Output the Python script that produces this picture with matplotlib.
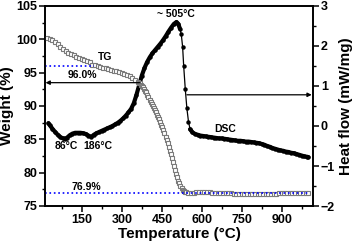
import numpy as np
import matplotlib
matplotlib.use("Agg")
import matplotlib.pyplot as plt
from matplotlib.ticker import MultipleLocator

plt.rcParams['font.family'] = ['Liberation Sans', 'DejaVu Sans']
plt.rcParams['font.weight'] = 'bold'

# TG curve (weight %)
tg_temp = [20, 30, 40, 50, 60, 70, 80, 90, 100, 110, 120, 130, 140, 150, 160, 170,
           180, 190, 200, 210, 220, 230, 240, 250, 260, 270, 280, 290, 300, 310, 320,
           330, 340, 350, 360,
           364, 368, 372, 376, 380, 384, 388, 392, 396, 400, 404, 408, 412, 416, 420,
           424, 428, 432, 436, 440, 444, 448, 452, 456, 460, 464, 468, 472, 476, 480,
           484, 488, 492, 496, 500, 504, 508, 512, 516, 520, 524, 528, 532, 536, 540,
           550, 560, 570, 580, 590, 600, 610, 620, 630, 640, 650, 660, 670, 680, 690,
           700, 710, 720, 730, 740, 750, 760, 770, 780, 790, 800, 810, 820, 830, 840,
           850, 860, 870, 880, 890, 900, 910, 920, 930, 940, 950, 960, 970, 980, 990, 1000]
tg_weight = [100.15, 100.05, 99.9, 99.65, 99.3, 98.9, 98.5, 98.2, 97.95, 97.8, 97.6, 97.4,
             97.2, 97.0, 96.85, 96.7, 96.6, 96.2, 96.1, 96.0, 95.9, 95.75, 95.65, 95.5,
             95.4, 95.3, 95.2, 95.05, 94.95, 94.8, 94.65, 94.45, 94.2, 93.9, 93.6,
             93.5, 93.4, 93.2, 93.0, 92.8, 92.55, 92.3, 92.05, 91.7, 91.3, 90.9, 90.6,
             90.3, 90.0, 89.7, 89.4, 89.05, 88.7, 88.35, 88.0, 87.6, 87.2, 86.8, 86.4,
             85.9, 85.4, 84.9, 84.4, 83.85, 83.3, 82.75, 82.2, 81.6, 81.0, 80.4, 79.8,
             79.3, 78.8, 78.4, 78.05, 77.75, 77.45, 77.25, 77.1, 77.05,
             77.0, 77.0, 77.0, 77.05, 77.05, 77.05, 77.05, 77.05, 77.05, 77.0, 77.0,
             77.0, 76.95, 76.95, 76.9, 76.9, 76.9, 76.85, 76.85, 76.85, 76.85, 76.85,
             76.85, 76.85, 76.85, 76.85, 76.85, 76.85, 76.85, 76.85, 76.85, 76.85,
             76.85, 76.85, 76.9, 76.9, 76.9, 76.9, 76.9, 76.9, 76.9, 76.9, 76.9, 76.9,
             76.9, 76.9]

# DSC curve (heat flow mW/mg)
dsc_temp = [25, 30, 40, 50, 60, 70, 80, 86, 95, 105, 115, 125, 135, 145, 155, 165, 175,
            186, 195, 205, 215, 225, 235, 245, 255, 265, 275, 285, 295, 305, 315, 325,
            335, 345, 355, 365, 375, 385, 395, 405, 415, 425, 435, 445, 455, 465, 475,
            485, 495, 505, 512, 518, 523, 528, 532, 538, 544, 550, 556, 565, 575, 585,
            595, 605, 615, 625, 635, 645, 655, 665, 675, 685, 695, 705, 715, 725, 735,
            745, 755, 765, 775, 785, 795, 805, 815, 825, 835, 845, 855, 865, 875, 885,
            895, 905, 915, 925, 935, 945, 955, 965, 975, 985, 995, 1000]
dsc_flow = [0.07, 0.02, -0.07, -0.15, -0.22, -0.28, -0.31, -0.32, -0.29, -0.23, -0.19,
            -0.17, -0.17, -0.17, -0.18, -0.2, -0.24, -0.27, -0.22, -0.18, -0.15, -0.12,
            -0.09, -0.06, -0.03, 0.0, 0.04, 0.08, 0.13, 0.19, 0.26, 0.34, 0.43, 0.57,
            0.78, 1.02, 1.26, 1.45, 1.6, 1.72, 1.82, 1.9, 1.98, 2.06, 2.15, 2.25, 2.36,
            2.46, 2.55, 2.6, 2.55, 2.43, 2.29, 1.98, 1.5, 0.92, 0.44, 0.11, -0.08, -0.16,
            -0.2, -0.22, -0.24, -0.25, -0.26, -0.27, -0.28, -0.29, -0.3, -0.31, -0.31,
            -0.32, -0.33, -0.34, -0.35, -0.36, -0.37, -0.37, -0.38, -0.39, -0.39, -0.4,
            -0.41, -0.42, -0.43, -0.45, -0.47, -0.5, -0.52, -0.55, -0.57, -0.59, -0.61,
            -0.62, -0.64, -0.65, -0.67, -0.68, -0.7, -0.72, -0.74, -0.76, -0.77, -0.78]

tg_plateau = 96.0
tg_residue = 76.9

fig = plt.figure(figsize=(3.54, 2.45), dpi=100)
ax = fig.add_axes([45 / 354, 39 / 245, 268.3 / 354, 200 / 245])
ax2 = ax.twinx()

ax.set_zorder(2)
ax.patch.set_visible(False)

# TG: open grey squares
ax.plot(tg_temp, tg_weight, linestyle='none', marker='s', markersize=3.0,
        markerfacecolor='white', markeredgecolor='#7a7a7a', markeredgewidth=0.8)

# DSC: black dots with line, thick where dots overlap
dsc_t = np.array(dsc_temp)
dsc_f = np.array(dsc_flow)
thick = np.where((dsc_t > 519) & (dsc_t < 553), np.nan, dsc_f)
ax2.plot(dsc_t, thick, color='black', lw=3.0, solid_capstyle='round')
ax2.plot(dsc_t, dsc_f, color='black', lw=0.9, marker='o', markersize=3.2,
         markeredgewidth=0)

# reference dotted lines
ax.hlines(tg_plateau, 12, 195, colors='blue', linestyles=':', lw=1.2)
ax.hlines(tg_residue, 12, 1005, colors='blue', linestyles=':', lw=1.2)

# arrows
ax.annotate('', xy=(14, 93.5), xytext=(369, 93.5),
            arrowprops=dict(arrowstyle='-|>', color='black', lw=0.9,
                            mutation_scale=6, shrinkA=0, shrinkB=0))
ax2.annotate('', xy=(1012, 0.78), xytext=(544, 0.78),
             arrowprops=dict(arrowstyle='-|>', color='black', lw=0.9,
                             mutation_scale=6, shrinkA=0, shrinkB=0))

# labels in plot
fs = 7.5
ax.text(237, 97.3, 'TG', fontsize=fs, fontweight='bold', ha='center', va='center')
ax.text(151, 94.6, '96.0%', fontsize=fs, fontweight='bold', ha='center', va='center')
ax.text(90, 84.0, '86°C', fontsize=fs, fontweight='bold', ha='center', va='center')
ax.text(212, 84.0, '186°C', fontsize=fs, fontweight='bold', ha='center', va='center')
ax.text(166, 77.9, '76.9%', fontsize=fs, fontweight='bold', ha='center', va='center')
ax2.text(687, -0.075, 'DSC', fontsize=fs, fontweight='bold', ha='center', va='center')
ax2.text(504, 2.8, '~ 505°C', fontsize=fs, fontweight='bold', ha='center', va='center')

ax.set_xlim(12, 1018)
ax.set_ylim(75, 105)
ax2.set_ylim(-2, 3)

ax.xaxis.set_major_locator(MultipleLocator(150))
ax.xaxis.set_minor_locator(MultipleLocator(75))
ax.yaxis.set_major_locator(MultipleLocator(5))
ax.yaxis.set_minor_locator(MultipleLocator(2.5))
ax2.yaxis.set_major_locator(MultipleLocator(1))
ax2.yaxis.set_minor_locator(MultipleLocator(0.5))

for a in (ax, ax2):
    a.tick_params(which='major', length=4, width=1.1, labelsize=9, pad=1.5)
    a.tick_params(which='minor', length=2.2, width=1.0)
    for s in a.spines.values():
        s.set_linewidth(1.2)
    for lbl in a.get_xticklabels() + a.get_yticklabels():
        lbl.set_fontweight('bold')

ax.set_xlabel('Temperature (°C)', fontsize=11, fontweight='bold', labelpad=1)
ax.set_ylabel('Weight (%)', fontsize=11, fontweight='bold', labelpad=2)
ax2.set_ylabel('Heat flow (mW/mg)', fontsize=11, fontweight='bold', labelpad=3)

fig.savefig('out.png', dpi=100)
